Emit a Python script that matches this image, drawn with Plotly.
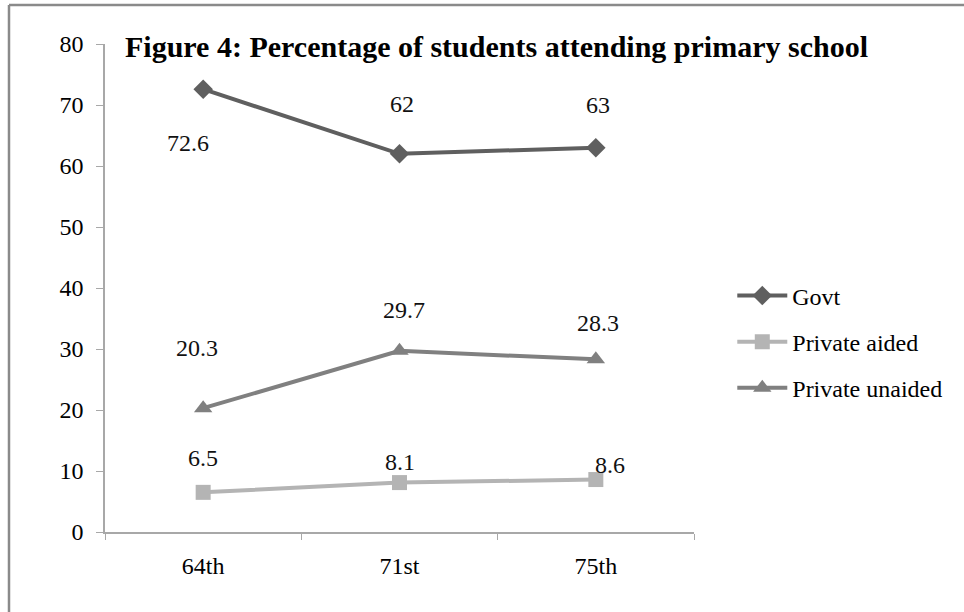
import plotly.graph_objects as go

rounds = ["64th", "71st", "75th"]
govt = [72.6, 62, 63]
private_aided = [6.5, 8.1, 8.6]
private_unaided = [20.3, 29.7, 28.3]
y_ticks = [0, 10, 20, 30, 40, 50, 60, 70, 80]

SERIF = "Liberation Serif, Times New Roman, serif"

fig = go.Figure()

series = [
    ("Govt", govt, "#5f5f5f", "diamond", 15),
    ("Private aided", private_aided, "#b4b4b4", "square", 15),
    ("Private unaided", private_unaided, "#808080", "triangle-up", 16),
]
for i, (name, vals, color, sym, msize) in enumerate(series):
    fig.add_trace(go.Scatter(
        x=rounds, y=vals, name=name, mode="lines+markers",
        line=dict(color=color, width=4),
        marker=dict(symbol=sym, size=msize, color=color),
        legendgroup=str(i),
    ))

# value labels with hand-placed pixel offsets (dx, dy)
label_offsets = {
    "Govt": [(-15, -54), (2, 50), (2, 43)],
    "Private aided": [(0, 34), (0, 21), (14, 15)],
    "Private unaided": [(-6, 60), (4, 41), (2, 36)],
}
for name, vals, color, sym, msize in series:
    for cat, v, (dx, dy) in zip(rounds, vals, label_offsets[name]):
        fig.add_annotation(
            x=cat, y=v, xref="x", yref="y", text=f"{v:g}", showarrow=False,
            xshift=dx, yshift=dy, font=dict(family=SERIF, size=24, color="#111"),
        )

fig.add_annotation(
    x=0.03, y=0.994, xref="paper", yref="paper", xanchor="left", yanchor="middle",
    text="<b>Figure 4: Percentage of students attending primary school</b>",
    showarrow=False, font=dict(family=SERIF, size=30, color="#000"),
)

# outer chart border (left and top edges visible in the frame)
fig.add_shape(type="line", xref="paper", yref="paper",
              x0=-0.163, x1=-0.163, y0=1.08, y1=-0.3,
              line=dict(color="#8a8a8a", width=2.5))
fig.add_shape(type="line", xref="paper", yref="paper",
              x0=-0.163, x1=1.5, y0=1.08, y1=1.08,
              line=dict(color="#8a8a8a", width=2.5))

fig.update_layout(
    width=964, height=612,
    margin=dict(l=105, r=270, t=44, b=80),
    paper_bgcolor="white", plot_bgcolor="white",
    font=dict(family=SERIF, size=24, color="#000"),
    showlegend=True,
    legend=dict(
        x=1.065, y=0.53, xanchor="left", yanchor="top",
        font=dict(family=SERIF, size=24, color="#000"),
        tracegroupgap=12, itemwidth=50, bgcolor="rgba(0,0,0,0)",
    ),
    xaxis=dict(
        type="category", range=[-0.5, 2.5], showgrid=False,
        showline=True, linecolor="#a8a8a8", linewidth=1.5,
        ticks="outside", tickson="boundaries", ticklen=6, tickcolor="#a8a8a8",
        tickfont=dict(family=SERIF, size=24), zeroline=False,
        ticklabelstandoff=11,
    ),
    yaxis=dict(
        range=[0, 80], tickvals=y_ticks, showgrid=False,
        showline=True, linecolor="#a8a8a8", linewidth=1.5,
        ticks="outside", ticklen=7, tickcolor="#a8a8a8",
        tickfont=dict(family=SERIF, size=24), zeroline=False,
        ticklabelstandoff=8,
    ),
)

fig.write_html("out.html")
